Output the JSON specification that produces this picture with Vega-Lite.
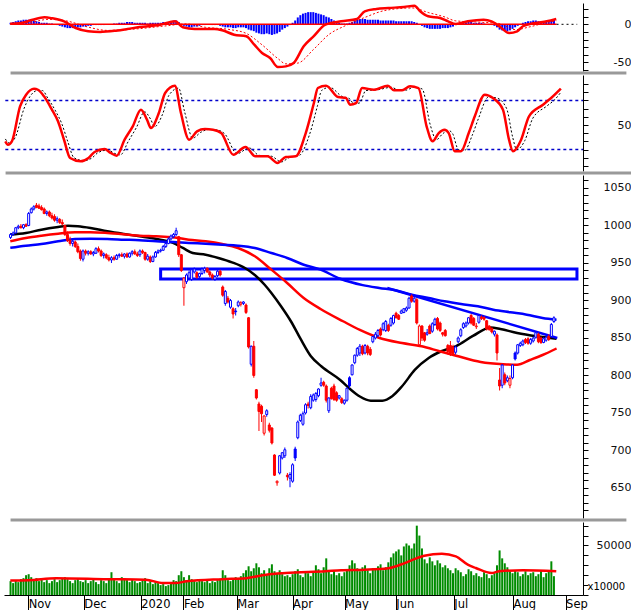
{
"$schema":"https://vega.github.io/schema/vega-lite/v6.json",
"padding":0,
"background":"white",
"spacing":4,
"bounds":"flush",
"config":{"view":{"stroke":null},"axis":{"grid":false,"labelFont":"DejaVu Sans","labelFontSize":11,"labelColor":"#111","domainColor":"#000","tickColor":"#000","labelOverlap":false,"labelFlush":false,"labelBound":false}},
"datasets":{
"candles":[
{"t":-7,"o":984,"h":990,"l":982,"c":988,"v":14000,"hs":2},
{"t":-6,"o":988,"h":992,"l":986,"c":990,"v":12000,"hs":3},
{"t":-5,"o":990,"h":998,"l":989,"c":997,"v":15000,"hs":4},
{"t":-4,"o":997,"h":1001,"l":995,"c":999,"v":13000,"hs":5},
{"t":-3,"o":999,"h":1002,"l":996,"c":997,"v":16000,"hs":5},
{"t":-2,"o":997,"h":1002,"l":995,"c":1001,"v":17000,"hs":6},
{"t":-1,"o":1001,"h":1003,"l":998,"c":999,"v":20000,"hs":6},
{"t":0,"o":1000,"h":1018,"l":999,"c":1016,"v":21000,"hs":6},
{"t":1,"o":1017,"h":1024,"l":1016,"c":1022,"v":18000,"hs":5},
{"t":2,"o":1022,"h":1027,"l":1020,"c":1025,"v":15000,"hs":5},
{"t":3,"o":1027,"h":1030,"l":1023,"c":1024,"v":17000,"hs":4},
{"t":4,"o":1026,"h":1029,"l":1022,"c":1023,"v":14000,"hs":3},
{"t":5,"o":1024,"h":1027,"l":1020,"c":1021,"v":16000,"hs":2},
{"t":6,"o":1022,"h":1024,"l":1015,"c":1016,"v":13000,"hs":2},
{"t":7,"o":1016,"h":1020,"l":1013,"c":1018,"v":15000,"hs":2},
{"t":8,"o":1018,"h":1020,"l":1011,"c":1013,"v":12000,"hs":1},
{"t":9,"o":1013,"h":1017,"l":1008,"c":1010,"v":14000,"hs":1},
{"t":10,"o":1012,"h":1015,"l":1005,"c":1007,"v":16000,"hs":0},
{"t":11,"o":1007,"h":1012,"l":1003,"c":1009,"v":13000,"hs":-1},
{"t":12,"o":1008,"h":1010,"l":1002,"c":1004,"v":15000,"hs":-2},
{"t":13,"o":1004,"h":1008,"l":1000,"c":1002,"v":17000,"hs":-3},
{"t":14,"o":1000,"h":1001,"l":986,"c":988,"v":18000,"hs":-4},
{"t":15,"o":988,"h":992,"l":978,"c":980,"v":16000,"hs":-5},
{"t":16,"o":980,"h":985,"l":973,"c":976,"v":14000,"hs":-5},
{"t":17,"o":976,"h":982,"l":972,"c":979,"v":12000,"hs":-5},
{"t":18,"o":978,"h":980,"l":970,"c":972,"v":15000,"hs":-5},
{"t":19,"o":972,"h":976,"l":963,"c":965,"v":16000,"hs":-4},
{"t":20,"o":966,"h":968,"l":953,"c":956,"v":14000,"hs":-4},
{"t":21,"o":955,"h":968,"l":952,"c":966,"v":13000,"hs":-3},
{"t":22,"o":966,"h":968,"l":960,"c":963,"v":15000,"hs":-3},
{"t":23,"o":963,"h":967,"l":960,"c":965,"v":12000,"hs":-2},
{"t":24,"o":965,"h":967,"l":961,"c":962,"v":14000,"hs":-2},
{"t":25,"o":962,"h":966,"l":959,"c":964,"v":16000,"hs":-1},
{"t":26,"o":963,"h":971,"l":962,"c":969,"v":13000,"hs":-1},
{"t":27,"o":969,"h":972,"l":964,"c":966,"v":11000,"hs":-1},
{"t":28,"o":966,"h":968,"l":958,"c":960,"v":15000,"hs":-1},
{"t":29,"o":960,"h":964,"l":956,"c":962,"v":14000,"hs":-1},
{"t":30,"o":961,"h":963,"l":955,"c":957,"v":12000,"hs":0},
{"t":31,"o":957,"h":961,"l":952,"c":954,"v":16000,"hs":0},
{"t":32,"o":954,"h":959,"l":950,"c":957,"v":23000,"hs":0},
{"t":33,"o":957,"h":960,"l":953,"c":955,"v":17000,"hs":1},
{"t":34,"o":955,"h":962,"l":954,"c":960,"v":14000,"hs":1},
{"t":35,"o":960,"h":963,"l":957,"c":961,"v":12000,"hs":2},
{"t":36,"o":961,"h":964,"l":958,"c":959,"v":18000,"hs":2},
{"t":37,"o":959,"h":963,"l":956,"c":962,"v":17000,"hs":2},
{"t":38,"o":962,"h":964,"l":957,"c":958,"v":15000,"hs":3},
{"t":39,"o":958,"h":964,"l":957,"c":963,"v":13000,"hs":3},
{"t":40,"o":963,"h":967,"l":960,"c":965,"v":16000,"hs":3},
{"t":41,"o":965,"h":968,"l":961,"c":962,"v":14000,"hs":2},
{"t":42,"o":962,"h":965,"l":958,"c":960,"v":12000,"hs":2},
{"t":43,"o":961,"h":968,"l":958,"c":966,"v":13000,"hs":2},
{"t":44,"o":966,"h":968,"l":962,"c":964,"v":15000,"hs":2},
{"t":45,"o":964,"h":965,"l":953,"c":955,"v":17000,"hs":2},
{"t":46,"o":955,"h":962,"l":953,"c":959,"v":12000,"hs":1},
{"t":47,"o":958,"h":960,"l":950,"c":952,"v":14000,"hs":2},
{"t":48,"o":952,"h":960,"l":951,"c":958,"v":11000,"hs":2},
{"t":49,"o":958,"h":966,"l":957,"c":964,"v":13000,"hs":2},
{"t":50,"o":964,"h":968,"l":962,"c":966,"v":12000,"hs":2},
{"t":51,"o":966,"h":969,"l":964,"c":967,"v":10000,"hs":2},
{"t":52,"o":967,"h":974,"l":966,"c":972,"v":11000,"hs":3},
{"t":53,"o":972,"h":978,"l":970,"c":976,"v":9000,"hs":3},
{"t":54,"o":976,"h":984,"l":975,"c":982,"v":10000,"hs":3},
{"t":55,"o":982,"h":988,"l":980,"c":986,"v":12000,"hs":4},
{"t":56,"o":985,"h":990,"l":983,"c":988,"v":15000,"hs":5},
{"t":57,"o":988,"h":997,"l":986,"c":993,"v":14000,"hs":5},
{"t":58,"o":985,"h":986,"l":958,"c":961,"v":20000,"hs":3},
{"t":59,"o":961,"h":962,"l":938,"c":940,"v":24000,"hs":0},
{"t":60,"o":917,"h":931,"l":893,"c":930,"v":18000,"hs":-2},
{"t":61,"o":925,"h":936,"l":922,"c":934,"v":15000,"hs":-3},
{"t":62,"o":930,"h":940,"l":928,"c":937,"v":20000,"hs":-4},
{"t":63,"o":928,"h":942,"l":926,"c":941,"v":16000,"hs":-4},
{"t":64,"o":938,"h":944,"l":936,"c":942,"v":14000,"hs":-3},
{"t":65,"o":937,"h":939,"l":929,"c":931,"v":13000,"hs":-3},
{"t":66,"o":932,"h":937,"l":930,"c":936,"v":15000,"hs":-2},
{"t":67,"o":936,"h":944,"l":934,"c":942,"v":14000,"hs":-1},
{"t":68,"o":940,"h":945,"l":936,"c":943,"v":13000,"hs":-1},
{"t":69,"o":943,"h":944,"l":937,"c":938,"v":15000,"hs":0},
{"t":70,"o":938,"h":940,"l":931,"c":934,"v":12000,"hs":0},
{"t":71,"o":934,"h":936,"l":928,"c":930,"v":14000,"hs":-1},
{"t":72,"o":928,"h":934,"l":926,"c":932,"v":13000,"hs":-1},
{"t":73,"o":933,"h":941,"l":931,"c":939,"v":15000,"hs":-1},
{"t":74,"o":939,"h":941,"l":932,"c":934,"v":16000,"hs":-2},
{"t":75,"o":918,"h":920,"l":905,"c":907,"v":25000,"hs":-3},
{"t":76,"o":896,"h":914,"l":893,"c":912,"v":20000,"hs":-4},
{"t":77,"o":903,"h":906,"l":896,"c":898,"v":15000,"hs":-4},
{"t":78,"o":891,"h":902,"l":889,"c":900,"v":14000,"hs":-4},
{"t":79,"o":889,"h":891,"l":876,"c":882,"v":16000,"hs":-5},
{"t":80,"o":886,"h":890,"l":880,"c":885,"v":18000,"hs":-5},
{"t":81,"o":893,"h":900,"l":891,"c":898,"v":17000,"hs":-4},
{"t":82,"o":895,"h":899,"l":892,"c":897,"v":19000,"hs":-4},
{"t":83,"o":896,"h":899,"l":894,"c":898,"v":22000,"hs":-4},
{"t":84,"o":894,"h":896,"l":882,"c":884,"v":25000,"hs":-5},
{"t":85,"o":877,"h":878,"l":836,"c":838,"v":29000,"hs":-7},
{"t":86,"o":815,"h":840,"l":812,"c":839,"v":24000,"hs":-8},
{"t":87,"o":839,"h":846,"l":797,"c":800,"v":27000,"hs":-9},
{"t":88,"o":781,"h":782,"l":768,"c":770,"v":32000,"hs":-11},
{"t":89,"o":762,"h":765,"l":726,"c":752,"v":28000,"hs":-12},
{"t":90,"o":759,"h":761,"l":738,"c":749,"v":22000,"hs":-13},
{"t":91,"o":723,"h":747,"l":720,"c":746,"v":25000,"hs":-13},
{"t":92,"o":748,"h":755,"l":745,"c":753,"v":20000,"hs":-12},
{"t":93,"o":734,"h":737,"l":724,"c":727,"v":27000,"hs":-13},
{"t":94,"o":730,"h":731,"l":708,"c":710,"v":31000,"hs":-14},
{"t":95,"o":694,"h":695,"l":666,"c":667,"v":24000,"hs":-13},
{"t":96,"o":657,"h":660,"l":653,"c":659,"v":22000,"hs":-12},
{"t":97,"o":670,"h":694,"l":668,"c":693,"v":25000,"hs":-10},
{"t":98,"o":690,"h":698,"l":688,"c":697,"v":21000,"hs":-7},
{"t":99,"o":693,"h":704,"l":690,"c":701,"v":19000,"hs":-5},
{"t":100,"o":667,"h":670,"l":660,"c":665,"v":20000,"hs":-3},
{"t":101,"o":663,"h":671,"l":651,"c":668,"v":18000,"hs":-1},
{"t":102,"o":659,"h":683,"l":657,"c":681,"v":21000,"hs":2},
{"t":103,"o":702,"h":705,"l":686,"c":690,"v":24000,"hs":5},
{"t":104,"o":717,"h":740,"l":715,"c":738,"v":26000,"hs":9},
{"t":105,"o":740,"h":749,"l":738,"c":747,"v":20000,"hs":12},
{"t":106,"o":735,"h":752,"l":733,"c":749,"v":18000,"hs":14},
{"t":107,"o":750,"h":763,"l":748,"c":761,"v":23000,"hs":15},
{"t":108,"o":762,"h":765,"l":756,"c":760,"v":22000,"hs":16},
{"t":109,"o":757,"h":775,"l":755,"c":772,"v":19000,"hs":16},
{"t":110,"o":767,"h":776,"l":765,"c":774,"v":24000,"hs":16},
{"t":111,"o":768,"h":778,"l":765,"c":776,"v":30000,"hs":15},
{"t":112,"o":773,"h":783,"l":771,"c":782,"v":26000,"hs":14},
{"t":113,"o":787,"h":797,"l":785,"c":790,"v":22000,"hs":13},
{"t":114,"o":791,"h":793,"l":785,"c":787,"v":28000,"hs":12},
{"t":115,"o":786,"h":788,"l":764,"c":767,"v":37000,"hs":10},
{"t":116,"o":753,"h":771,"l":750,"c":770,"v":24000,"hs":9},
{"t":117,"o":783,"h":785,"l":768,"c":769,"v":21000,"hs":7},
{"t":118,"o":786,"h":789,"l":766,"c":768,"v":25000,"hs":5},
{"t":119,"o":777,"h":779,"l":765,"c":767,"v":20000,"hs":3},
{"t":120,"o":770,"h":774,"l":768,"c":773,"v":22000,"hs":2},
{"t":121,"o":769,"h":771,"l":762,"c":764,"v":19000,"hs":1},
{"t":122,"o":763,"h":768,"l":761,"c":767,"v":23000,"hs":1},
{"t":123,"o":767,"h":784,"l":765,"c":783,"v":26000,"hs":1},
{"t":124,"o":797,"h":799,"l":783,"c":786,"v":30000,"hs":2},
{"t":125,"o":801,"h":815,"l":800,"c":814,"v":35000,"hs":3},
{"t":126,"o":817,"h":828,"l":815,"c":827,"v":32000,"hs":5},
{"t":127,"o":827,"h":838,"l":825,"c":836,"v":27000,"hs":6},
{"t":128,"o":830,"h":842,"l":826,"c":839,"v":24000,"hs":7},
{"t":129,"o":839,"h":841,"l":827,"c":829,"v":28000,"hs":7},
{"t":130,"o":830,"h":842,"l":828,"c":840,"v":30000,"hs":7},
{"t":131,"o":839,"h":841,"l":827,"c":830,"v":25000,"hs":6},
{"t":132,"o":835,"h":838,"l":826,"c":828,"v":22000,"hs":6},
{"t":133,"o":845,"h":853,"l":843,"c":852,"v":27000,"hs":6},
{"t":134,"o":850,"h":858,"l":848,"c":855,"v":26000,"hs":6},
{"t":135,"o":853,"h":862,"l":851,"c":860,"v":29000,"hs":6},
{"t":136,"o":862,"h":864,"l":852,"c":854,"v":31000,"hs":5},
{"t":137,"o":861,"h":871,"l":859,"c":869,"v":25000,"hs":5},
{"t":138,"o":860,"h":874,"l":858,"c":872,"v":28000,"hs":5},
{"t":139,"o":867,"h":869,"l":858,"c":860,"v":33000,"hs":5},
{"t":140,"o":867,"h":878,"l":865,"c":876,"v":38000,"hs":5},
{"t":141,"o":870,"h":881,"l":868,"c":880,"v":42000,"hs":5},
{"t":142,"o":883,"h":885,"l":876,"c":877,"v":44000,"hs":4},
{"t":143,"o":880,"h":882,"l":874,"c":875,"v":46000,"hs":4},
{"t":144,"o":883,"h":888,"l":882,"c":886,"v":40000,"hs":4},
{"t":145,"o":884,"h":890,"l":883,"c":889,"v":49000,"hs":4},
{"t":146,"o":887,"h":892,"l":885,"c":890,"v":52000,"hs":4},
{"t":147,"o":890,"h":905,"l":889,"c":903,"v":50000,"hs":4},
{"t":148,"o":906,"h":908,"l":897,"c":899,"v":47000,"hs":4},
{"t":149,"o":899,"h":907,"l":897,"c":903,"v":52000,"hs":3},
{"t":150,"o":901,"h":903,"l":868,"c":870,"v":70000,"hs":2},
{"t":151,"o":841,"h":868,"l":838,"c":866,"v":60000,"hs":0},
{"t":152,"o":866,"h":867,"l":846,"c":850,"v":47000,"hs":-2},
{"t":153,"o":857,"h":858,"l":845,"c":847,"v":36000,"hs":-4},
{"t":154,"o":855,"h":862,"l":853,"c":857,"v":32000,"hs":-5},
{"t":155,"o":866,"h":868,"l":855,"c":856,"v":38000,"hs":-6},
{"t":156,"o":859,"h":871,"l":857,"c":869,"v":34000,"hs":-6},
{"t":157,"o":868,"h":877,"l":866,"c":875,"v":30000,"hs":-6},
{"t":158,"o":876,"h":878,"l":860,"c":862,"v":35000,"hs":-6},
{"t":159,"o":870,"h":872,"l":858,"c":860,"v":32000,"hs":-6},
{"t":160,"o":857,"h":858,"l":852,"c":855,"v":28000,"hs":-5},
{"t":161,"o":860,"h":862,"l":852,"c":853,"v":30000,"hs":-5},
{"t":162,"o":840,"h":842,"l":828,"c":832,"v":27000,"hs":-5},
{"t":163,"o":840,"h":846,"l":826,"c":830,"v":25000,"hs":-4},
{"t":164,"o":838,"h":841,"l":828,"c":829,"v":22000,"hs":-3},
{"t":165,"o":831,"h":840,"l":828,"c":838,"v":27000,"hs":-1},
{"t":166,"o":845,"h":852,"l":843,"c":850,"v":25000,"hs":0},
{"t":167,"o":853,"h":863,"l":851,"c":861,"v":23000,"hs":1},
{"t":168,"o":864,"h":871,"l":862,"c":869,"v":19000,"hs":2},
{"t":169,"o":866,"h":872,"l":864,"c":870,"v":21000,"hs":2},
{"t":170,"o":870,"h":878,"l":868,"c":877,"v":26000,"hs":3},
{"t":171,"o":880,"h":882,"l":868,"c":870,"v":24000,"hs":3},
{"t":172,"o":876,"h":878,"l":866,"c":867,"v":20000,"hs":2},
{"t":173,"o":865,"h":870,"l":862,"c":866,"v":22000,"hs":2},
{"t":174,"o":871,"h":881,"l":869,"c":880,"v":19000,"hs":2},
{"t":175,"o":878,"h":880,"l":874,"c":876,"v":18000,"hs":2},
{"t":176,"o":877,"h":879,"l":873,"c":875,"v":23000,"hs":1},
{"t":177,"o":873,"h":874,"l":860,"c":862,"v":21000,"hs":0},
{"t":178,"o":866,"h":867,"l":860,"c":861,"v":17000,"hs":-1},
{"t":179,"o":863,"h":864,"l":856,"c":858,"v":20000,"hs":-1},
{"t":180,"o":855,"h":860,"l":852,"c":859,"v":22000,"hs":-2},
{"t":181,"o":854,"h":856,"l":820,"c":830,"v":30000,"hs":-4},
{"t":182,"o":794,"h":810,"l":780,"c":786,"v":45000,"hs":-7},
{"t":183,"o":787,"h":815,"l":783,"c":814,"v":37000,"hs":-8},
{"t":184,"o":801,"h":804,"l":787,"c":790,"v":32000,"hs":-9},
{"t":185,"o":793,"h":800,"l":791,"c":797,"v":28000,"hs":-9},
{"t":186,"o":787,"h":800,"l":783,"c":796,"v":24000,"hs":-8},
{"t":187,"o":797,"h":815,"l":795,"c":814,"v":22000,"hs":-6},
{"t":188,"o":830,"h":832,"l":820,"c":822,"v":25000,"hs":-4},
{"t":189,"o":830,"h":842,"l":828,"c":841,"v":23000,"hs":-2},
{"t":190,"o":840,"h":845,"l":838,"c":843,"v":19000,"hs":0},
{"t":191,"o":841,"h":848,"l":839,"c":846,"v":21000,"hs":2},
{"t":192,"o":848,"h":850,"l":842,"c":844,"v":24000,"hs":3},
{"t":193,"o":849,"h":851,"l":841,"c":843,"v":20000,"hs":4},
{"t":194,"o":843,"h":850,"l":841,"c":848,"v":22000,"hs":4},
{"t":195,"o":846,"h":852,"l":844,"c":850,"v":23000,"hs":5},
{"t":196,"o":851,"h":858,"l":849,"c":857,"v":19000,"hs":5},
{"t":197,"o":855,"h":857,"l":843,"c":845,"v":21000,"hs":4},
{"t":198,"o":850,"h":852,"l":842,"c":844,"v":25000,"hs":4},
{"t":199,"o":844,"h":851,"l":843,"c":849,"v":18000,"hs":4},
{"t":200,"o":847,"h":853,"l":845,"c":851,"v":22000,"hs":4},
{"t":201,"o":852,"h":855,"l":846,"c":848,"v":24000,"hs":4},
{"t":202,"o":852,"h":870,"l":851,"c":868,"v":34000,"hs":5},
{"t":203,"o":872,"h":879,"l":870,"c":877,"v":19000,"hs":6}
],
"macd":[
{"t":-7.1,"m":0.8},{"t":-3,"m":1.7},{"t":1.5,"m":6},{"t":6.1,"m":9.2},{"t":9.1,"m":7.9},{"t":13.7,"m":3.9},{"t":18.2,"m":-4.9},{"t":23,"m":-9.2},{"t":27.6,"m":-10.1},{"t":33.7,"m":-8.4},{"t":38.2,"m":-6.2},{"t":42.8,"m":-3.6},{"t":50.5,"m":-0.9},{"t":56.6,"m":3.9},{"t":59.6,"m":-3.9},{"t":64.2,"m":-6.2},{"t":71.8,"m":-6.2},{"t":74.8,"m":-7.9},{"t":79.4,"m":-13.7},{"t":84.1,"m":-15.8},{"t":87.2,"m":-26.8},{"t":90.2,"m":-37.8},{"t":93.3,"m":-44.3},{"t":96.3,"m":-56.2},{"t":99.4,"m":-55.3},{"t":102.4,"m":-50.9},{"t":106.3,"m":-28.9},{"t":110.1,"m":-15.8},{"t":114.7,"m":-0.5},{"t":120.8,"m":3.9},{"t":126.9,"m":7},{"t":129.9,"m":17.1},{"t":134.4,"m":20.1},{"t":139,"m":21.4},{"t":145.1,"m":22.8},{"t":149.1,"m":24.5},{"t":151.3,"m":17.1},{"t":154.4,"m":10.5},{"t":159,"m":8.3},{"t":162.1,"m":3.9},{"t":165.1,"m":0.4},{"t":169.7,"m":3.9},{"t":175.8,"m":6},{"t":178.9,"m":3.9},{"t":181.9,"m":-2.6},{"t":185.7,"m":-11.4},{"t":188.8,"m":-9.2},{"t":191,"m":-2.6},{"t":195.6,"m":1.7},{"t":200.2,"m":3.9},{"t":203.9,"m":7}
],
"sig":[
{"t":-7.1,"s":1},{"t":1.5,"s":3},{"t":7.6,"s":6.5},{"t":15.2,"s":4},{"t":22.8,"s":-3.5},{"t":30.4,"s":-8},{"t":41.8,"s":-6},{"t":53.2,"s":-2},{"t":60.8,"s":0.5},{"t":68.4,"s":-4},{"t":77.9,"s":-7},{"t":84.1,"s":-12},{"t":90.2,"s":-27},{"t":96.3,"s":-45},{"t":99.4,"s":-52},{"t":104,"s":-51},{"t":110.1,"s":-33},{"t":116.2,"s":-13},{"t":122.3,"s":-2},{"t":129.9,"s":9},{"t":137.5,"s":18},{"t":148.3,"s":21.5},{"t":154.4,"s":15.5},{"t":160.5,"s":10},{"t":165.1,"s":4.5},{"t":172.8,"s":3},{"t":181.9,"s":1},{"t":188,"s":-7},{"t":194.1,"s":-3},{"t":201.7,"s":3.5},{"t":203.9,"s":4.5}
],
"stk":[
{"t":-7.1,"k":30},{"t":-6.1,"k":26},{"t":-4.6,"k":30},{"t":-1.5,"k":72.8},{"t":0.8,"k":87},{"t":3.8,"k":94.3},{"t":5.3,"k":93},{"t":7.6,"k":85},{"t":10.6,"k":68.7},{"t":12.9,"k":54.5},{"t":15.2,"k":32},{"t":17.5,"k":9.8},{"t":21.5,"k":5.7},{"t":24.5,"k":9.8},{"t":26.8,"k":17.1},{"t":30.6,"k":20.7},{"t":32.9,"k":15.9},{"t":35.2,"k":12.6},{"t":38.2,"k":32.1},{"t":41.3,"k":48.4},{"t":44.4,"k":68.7},{"t":46.7,"k":56.5},{"t":48.2,"k":46.3},{"t":51.2,"k":64.6},{"t":53.6,"k":89},{"t":57.3,"k":97.9},{"t":59.6,"k":64.6},{"t":62.7,"k":32.1},{"t":65.7,"k":42.3},{"t":68.7,"k":45.1},{"t":71.8,"k":44.3},{"t":74.9,"k":40.2},{"t":79.5,"k":13.8},{"t":84.1,"k":23.2},{"t":87.9,"k":11.8},{"t":92.5,"k":11.8},{"t":96.3,"k":3.7},{"t":99.4,"k":11},{"t":103.2,"k":11.8},{"t":107,"k":40.2},{"t":110.1,"k":76.8},{"t":111.6,"k":95.1},{"t":114.7,"k":97.9},{"t":119.3,"k":84.1},{"t":122.3,"k":82.9},{"t":123.8,"k":74.8},{"t":126.1,"k":76.8},{"t":128.4,"k":95.1},{"t":132.9,"k":93},{"t":138.2,"k":97.9},{"t":140.5,"k":92.3},{"t":143.6,"k":92.3},{"t":146.6,"k":97.2},{"t":149.8,"k":95.1},{"t":152.9,"k":48.4},{"t":155.2,"k":30.1},{"t":157.5,"k":40.2},{"t":159.7,"k":44.3},{"t":161.3,"k":40.2},{"t":163.6,"k":17.9},{"t":165.9,"k":17.9},{"t":168.9,"k":40.2},{"t":171.2,"k":60.6},{"t":175,"k":87},{"t":178.1,"k":82.9},{"t":181.9,"k":68.7},{"t":184.2,"k":32.1},{"t":185.7,"k":17.9},{"t":188.8,"k":32.1},{"t":191.8,"k":60.6},{"t":197.1,"k":74.8},{"t":200.2,"k":82.9},{"t":203.9,"k":94.3}
],
"std":[
{"t":-7.1,"d":33},{"t":-5.5,"d":28},{"t":-3.3,"d":35},{"t":0,"d":70},{"t":2.3,"d":85},{"t":5.1,"d":92},{"t":7,"d":92},{"t":9,"d":83},{"t":12,"d":67},{"t":14.3,"d":52},{"t":16.6,"d":30},{"t":19,"d":10},{"t":22.9,"d":6.5},{"t":25.9,"d":10},{"t":28.2,"d":16.5},{"t":32,"d":19.5},{"t":34.3,"d":15.5},{"t":36.6,"d":13.5},{"t":39.6,"d":30},{"t":42.7,"d":47},{"t":45.8,"d":66},{"t":48.1,"d":57},{"t":49.6,"d":48},{"t":52.6,"d":63},{"t":55,"d":86},{"t":58.7,"d":95},{"t":61,"d":66},{"t":64.1,"d":34},{"t":67.1,"d":41},{"t":70.1,"d":44.5},{"t":73.2,"d":44},{"t":76.3,"d":39},{"t":80.9,"d":15},{"t":85.5,"d":22},{"t":89.3,"d":13},{"t":93.9,"d":12},{"t":97.7,"d":5},{"t":100.8,"d":10.5},{"t":104.6,"d":13},{"t":108.4,"d":38},{"t":111.5,"d":74},{"t":113,"d":92},{"t":116.1,"d":96},{"t":120.7,"d":85},{"t":123.7,"d":82},{"t":125.2,"d":76},{"t":127.5,"d":77},{"t":129.8,"d":92},{"t":134.3,"d":93},{"t":139.6,"d":96},{"t":141.9,"d":93},{"t":145,"d":92.5},{"t":148,"d":96},{"t":151.2,"d":94},{"t":154.3,"d":50},{"t":156.6,"d":32},{"t":158.9,"d":39},{"t":161.1,"d":43.5},{"t":162.7,"d":40},{"t":165,"d":20},{"t":167.3,"d":19},{"t":170.3,"d":38},{"t":172.6,"d":58},{"t":176.4,"d":84},{"t":179.5,"d":83},{"t":183.3,"d":70},{"t":185.6,"d":35},{"t":187.1,"d":20},{"t":190.2,"d":31},{"t":193.2,"d":58},{"t":198.5,"d":73},{"t":201.6,"d":81},{"t":203.9,"d":90}
],
"ma":[
{"n":"a","t":-7.1,"p":988},{"n":"a","t":-1.1,"p":990},{"n":"a","t":4.9,"p":994.4},{"n":"a","t":11.4,"p":998},{"n":"a","t":15.2,"p":999.7},{"n":"a","t":19,"p":999},{"n":"a","t":23.9,"p":996.7},{"n":"a","t":30.4,"p":992.3},{"n":"a","t":36.8,"p":988.7},{"n":"a","t":42.9,"p":985.6},{"n":"a","t":49.4,"p":982},{"n":"a","t":55.8,"p":976.7},{"n":"a","t":59.6,"p":970},{"n":"a","t":63.4,"p":963.3},{"n":"a","t":68.4,"p":961},{"n":"a","t":73.3,"p":956.7},{"n":"a","t":78.6,"p":950.9},{"n":"a","t":83.6,"p":943.3},{"n":"a","t":87.4,"p":934},{"n":"a","t":91.2,"p":921},{"n":"a","t":93.8,"p":910},{"n":"a","t":97.6,"p":892},{"n":"a","t":101.4,"p":872},{"n":"a","t":105.2,"p":848},{"n":"a","t":109,"p":826},{"n":"a","t":113.2,"p":812},{"n":"a","t":120.4,"p":794},{"n":"a","t":124.2,"p":782},{"n":"a","t":128,"p":772},{"n":"a","t":132.2,"p":766.4},{"n":"a","t":136.7,"p":766.4},{"n":"a","t":140.5,"p":772.3},{"n":"a","t":144.3,"p":785.6},{"n":"a","t":149.3,"p":807.7},{"n":"a","t":154.6,"p":823.3},{"n":"a","t":159.5,"p":832.3},{"n":"a","t":165.2,"p":839.3},{"n":"a","t":171.7,"p":852.7},{"n":"a","t":178.5,"p":864},{"n":"a","t":182.3,"p":862},{"n":"a","t":188.8,"p":856.7},{"n":"a","t":196.4,"p":852.3},{"n":"a","t":204,"p":849},
{"n":"b","t":-7.1,"p":979},{"n":"b","t":-1.1,"p":983.3},{"n":"b","t":4.9,"p":986.4},{"n":"b","t":11.4,"p":989.1},{"n":"b","t":17.9,"p":990.9},{"n":"b","t":23.9,"p":990.9},{"n":"b","t":30.4,"p":990},{"n":"b","t":42.9,"p":986.4},{"n":"b","t":49.4,"p":985.6},{"n":"b","t":55.8,"p":984.3},{"n":"b","t":61.9,"p":981.1},{"n":"b","t":68.4,"p":978.9},{"n":"b","t":74.8,"p":975.3},{"n":"b","t":80.9,"p":970},{"n":"b","t":87.4,"p":958.9},{"n":"b","t":93.8,"p":941.1},{"n":"b","t":99.9,"p":923.3},{"n":"b","t":106.3,"p":903.3},{"n":"b","t":112.8,"p":888.7},{"n":"b","t":121.5,"p":872.3},{"n":"b","t":128,"p":860.7},{"n":"b","t":135.6,"p":850},{"n":"b","t":144.3,"p":843.3},{"n":"b","t":151.9,"p":838.9},{"n":"b","t":158.8,"p":832.3},{"n":"b","t":165.2,"p":826.4},{"n":"b","t":174.7,"p":818},{"n":"b","t":183.4,"p":815},{"n":"b","t":188.8,"p":814.4},{"n":"b","t":193.7,"p":820.7},{"n":"b","t":198.6,"p":827.3},{"n":"b","t":204,"p":836},
{"n":"c","t":-7.1,"p":970.3},{"n":"c","t":-1.1,"p":973.1},{"n":"c","t":4.9,"p":975.3},{"n":"c","t":11.4,"p":978.9},{"n":"c","t":17.9,"p":982},{"n":"c","t":23.9,"p":982.4},{"n":"c","t":30.4,"p":982},{"n":"c","t":36.8,"p":981.1},{"n":"c","t":42.9,"p":980.3},{"n":"c","t":49.4,"p":978.9},{"n":"c","t":55.8,"p":978},{"n":"c","t":61.9,"p":976.7},{"n":"c","t":68.4,"p":975.7},{"n":"c","t":74.8,"p":974.4},{"n":"c","t":80.9,"p":973.1},{"n":"c","t":87.4,"p":970},{"n":"c","t":93.8,"p":963.3},{"n":"c","t":99.9,"p":956.7},{"n":"c","t":106.3,"p":947.7},{"n":"c","t":112.8,"p":941.1},{"n":"c","t":120.4,"p":929},{"n":"c","t":129.1,"p":920.5},{"n":"c","t":135.5,"p":916.7},{"n":"c","t":141.8,"p":913.6},{"n":"c","t":148.1,"p":907.7},{"n":"c","t":154.6,"p":903.3},{"n":"c","t":160.7,"p":898.9},{"n":"c","t":167.1,"p":895.3},{"n":"c","t":173.6,"p":892.3},{"n":"c","t":179.6,"p":887.7},{"n":"c","t":186.1,"p":884.3},{"n":"c","t":192.5,"p":881.1},{"n":"c","t":198.6,"p":876.7},{"n":"c","t":204,"p":874.4}
],
"trend":[{"t":138.6,"p":916.7},{"t":204.3,"p":850}],
"zone":[{"t1":51,"t2":211.9,"p1":942,"p2":928.7}],
"vma":[
{"t":-7.1,"v":14700},{"t":0,"v":15000},{"t":10.6,"v":17000},{"t":30.4,"v":16000},{"t":45.2,"v":15500},{"t":52,"v":12000},{"t":56.6,"v":12000},{"t":61.1,"v":13800},{"t":74.8,"v":16000},{"t":84.1,"v":17000},{"t":91.8,"v":20500},{"t":99.4,"v":22200},{"t":114.7,"v":24000},{"t":120.8,"v":25000},{"t":129.9,"v":25500},{"t":139,"v":27000},{"t":145.1,"v":32000},{"t":149.8,"v":37000},{"t":152.9,"v":39700},{"t":159.7,"v":41700},{"t":165.1,"v":39000},{"t":169.7,"v":30600},{"t":172.8,"v":27300},{"t":178.9,"v":22200},{"t":181.9,"v":24000},{"t":191,"v":25000},{"t":203.9,"v":24000}
],
"levels":[{"lv":20},{"lv":80}]
},
"vconcat":[
{
"width":579,"height":68,
"layer":[
{"data":{"name":"candles"},"mark":{"type":"bar","width":2,"color":"#0000ff"},
 "encoding":{"x":{"field":"t","type":"quantitative","scale":{"domain":[-7.6,212.3],"nice":false,"zero":false},"axis":null},
 "y":{"field":"hs","type":"quantitative","scale":{"domain":[-61.4,28],"nice":false,"zero":false},
   "axis":{"orient":"right","title":null,"tickCount":100,"values":[-60,-50,-40,-30,-20,-10,0,10,20],"labelExpr":"datum.value === 0 || datum.value === -50 ? '' + datum.value : ''","tickSize":5,"labelAlign":"right","labelPadding":43,"labelBaseline":"middle"}},
 "y2":{"datum":0}}},
{"data":{"values":[{}]},"mark":{"type":"rule","color":"#ff0000","strokeWidth":1.5},
 "encoding":{"x":{"datum":-7.1,"axis":null},"x2":{"datum":204},"y":{"datum":0,"title":null}}},
{"data":{"values":[{}]},"mark":{"type":"rule","color":"#000","strokeWidth":1,"strokeDash":[2,3]},
 "encoding":{"x":{"datum":204,"axis":null},"x2":{"datum":212},"y":{"datum":0,"title":null}}},
{"data":{"name":"sig"},"mark":{"type":"line","color":"#ff0000","strokeWidth":1,"strokeDash":[2,2],"interpolate":"monotone"},
 "encoding":{"x":{"field":"t","type":"quantitative","axis":null},"y":{"field":"s","type":"quantitative","title":null}}},
{"data":{"name":"macd"},"mark":{"type":"line","color":"#ff0000","strokeWidth":2.5,"interpolate":"monotone"},
 "encoding":{"x":{"field":"t","type":"quantitative","axis":null},"y":{"field":"m","type":"quantitative","title":null}}},
{"data":{"values":[{}]},"mark":{"type":"rule","color":"#999999","strokeWidth":3,"yOffset":2},
 "encoding":{"x":{"datum":-7,"axis":null},"x2":{"datum":231},"y":{"datum":-61.4,"title":null}}}
]
},
{
"width":579,"height":96,
"layer":[
{"data":{"name":"levels"},"mark":{"type":"rule","color":"#0000cc","strokeWidth":1.5,"strokeDash":[3,3]},
 "encoding":{"x":{"datum":-7.1,"scale":{"domain":[-7.6,212.3],"nice":false,"zero":false},"axis":null},"x2":{"datum":212.3},
 "y":{"field":"lv","type":"quantitative","scale":{"domain":[-6.1,111],"nice":false,"zero":false},
  "axis":{"orient":"right","title":null,"tickCount":100,"values":[0,10,20,30,40,50,60,70,80,90,100],"labelExpr":"datum.value === 50 ? '50' : ''","tickSize":5,"labelAlign":"right","labelPadding":43,"labelBaseline":"middle"}}}},
{"data":{"name":"std"},"mark":{"type":"line","color":"#000","strokeWidth":1,"strokeDash":[2,2],"interpolate":"monotone"},
 "encoding":{"x":{"field":"t","type":"quantitative","axis":null},"y":{"field":"d","type":"quantitative","title":null}}},
{"data":{"name":"stk"},"mark":{"type":"line","color":"#ff0000","strokeWidth":2.5,"interpolate":"monotone"},
 "encoding":{"x":{"field":"t","type":"quantitative","axis":null},"y":{"field":"k","type":"quantitative","title":null}}},
{"data":{"values":[{}]},"mark":{"type":"rule","color":"#999999","strokeWidth":3,"yOffset":2},
 "encoding":{"x":{"datum":-7,"axis":null},"x2":{"datum":231},"y":{"datum":-6.1,"title":null}}}
]
},
{
"width":579,"height":343,
"layer":[
{"data":{"name":"zone"},"mark":{"type":"rect","fill":"#ffffff","fillOpacity":0,"stroke":"#0000ff","strokeWidth":3},
 "encoding":{"x":{"field":"t1","type":"quantitative","scale":{"domain":[-7.6,212.3],"nice":false,"zero":false},"axis":null},"x2":{"field":"t2"},
 "y":{"field":"p1","type":"quantitative","scale":{"domain":[610,1067.3],"nice":false,"zero":false},
  "axis":{"orient":"right","title":null,"tickCount":100,"values":[620,630,640,650,660,670,680,690,700,710,720,730,740,750,760,770,780,790,800,810,820,830,840,850,860,870,880,890,900,910,920,930,940,950,960,970,980,990,1000,1010,1020,1030,1040,1050,1060],"labelExpr":"datum.value % 50 === 0 ? '' + datum.value : ''","tickSize":5,"labelAlign":"right","labelPadding":43,"labelBaseline":"middle"}},
 "y2":{"field":"p2"}}},
{"data":{"name":"ma"},"mark":{"type":"line","strokeWidth":2.5,"interpolate":"monotone"},
 "encoding":{"x":{"field":"t","type":"quantitative","axis":null},"y":{"field":"p","type":"quantitative","title":null},
 "color":{"field":"n","type":"nominal","scale":{"domain":["a","b","c"],"range":["#000000","#ff0000","#0000ff"]},"legend":null}}},
{"data":{"name":"trend"},"mark":{"type":"line","strokeWidth":2.5,"color":"#0000ff"},
 "encoding":{"x":{"field":"t","type":"quantitative","axis":null},"y":{"field":"p","type":"quantitative","title":null}}},
{"data":{"name":"candles"},"transform":[{"window":[{"op":"lag","field":"c","as":"pc"}],"sort":[{"field":"t"}]}],
 "mark":{"type":"rule","strokeWidth":1},
 "encoding":{"x":{"field":"t","type":"quantitative","axis":null},"y":{"field":"l","type":"quantitative","title":null},"y2":{"field":"h"},
 "stroke":{"condition":{"test":"datum.pc == null || datum.c >= datum.pc","value":"#0000ff"},"value":"#ff0000"}}},
{"data":{"name":"candles"},"transform":[{"window":[{"op":"lag","field":"c","as":"pc"}],"sort":[{"field":"t"}]}],
 "mark":{"type":"bar","width":2,"strokeWidth":1},
 "encoding":{"x":{"field":"t","type":"quantitative","axis":null},"y":{"field":"o","type":"quantitative","title":null},"y2":{"field":"c"},
 "stroke":{"condition":{"test":"datum.pc == null || datum.c >= datum.pc","value":"#0000ff"},"value":"#ff0000"},
 "fill":{"condition":[{"test":"datum.c > datum.o","value":"#ffffff"},{"test":"datum.pc == null || datum.c >= datum.pc","value":"#0000ff"}],"value":"#ff0000"}}},
{"data":{"values":[{}]},"mark":{"type":"rule","color":"#999999","strokeWidth":3,"yOffset":2},
 "encoding":{"x":{"datum":-7,"axis":null},"x2":{"datum":231},"y":{"datum":610,"title":null}}}
]
},
{
"width":579,"height":73,
"encoding":{"x":{"field":"t","type":"quantitative","scale":{"domain":[-7.6,212.3],"nice":false,"zero":false},
 "axis":{"orient":"bottom","title":null,"tickCount":100,"values":[-0.2,21.3,43.3,59.8,80.4,102,122.1,141.9,164.3,187.2,207.5],
  "labelExpr":"datum.value < 10 ? 'Nov' : datum.value < 30 ? 'Dec' : datum.value < 50 ? '2020' : datum.value < 70 ? 'Feb' : datum.value < 90 ? 'Mar' : datum.value < 110 ? 'Apr' : datum.value < 130 ? 'May' : datum.value < 150 ? 'Jun' : datum.value < 175 ? 'Jul' : datum.value < 195 ? 'Aug' : 'Sep'",
  "tickSize":16,"labelAlign":"left","labelDx":3,"labelBaseline":"middle","labelPadding":-7,"labelColor":"#000","labelFontSize":11.5}}},
"layer":[
{"data":{"name":"candles"},"mark":{"type":"bar","width":2,"color":"#008c00"},
 "encoding":{"y":{"field":"v","type":"quantitative","scale":{"domain":[0,73700],"nice":false,"zero":false},
  "axis":{"orient":"right","title":"x10000","titleAngle":0,"titleX":4,"titleY":64,"titleAlign":"left","titleBaseline":"middle","titleFontSize":10,"titleFontWeight":"normal","titleFont":"DejaVu Sans","titleColor":"#000","tickCount":100,"values":[0,10000,20000,30000,40000,50000,60000,70000],"labelExpr":"datum.value === 50000 ? '50000' : ''","tickSize":5,"labelAlign":"right","labelPadding":43,"labelBaseline":"middle"}},
  "y2":{"datum":0}}},
{"data":{"name":"vma"},"mark":{"type":"line","color":"#ff0000","strokeWidth":2.5,"interpolate":"monotone"},
 "encoding":{"y":{"field":"v","type":"quantitative"}}}
]
}
]
}
